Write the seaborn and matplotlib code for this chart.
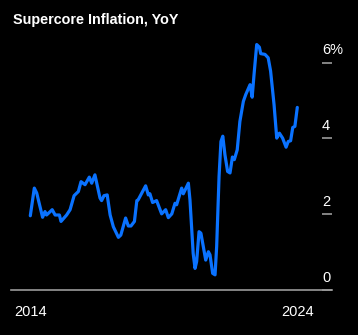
import matplotlib
matplotlib.use("Agg")
import matplotlib.pyplot as plt
import matplotlib.transforms as mtransforms
import seaborn as sns
import pandas as pd

years = [2014.00, 2014.15, 2014.24, 2014.46, 2014.55, 2014.61, 2014.82, 2014.93,
         2015.09, 2015.15, 2015.36, 2015.49, 2015.64, 2015.80, 2015.90, 2016.05,
         2016.21, 2016.30, 2016.42, 2016.61, 2016.67, 2016.76, 2016.88, 2016.99,
         2017.11, 2017.30, 2017.39, 2017.57, 2017.67, 2017.77, 2017.90, 2017.99,
         2018.04, 2018.32, 2018.42, 2018.48, 2018.58, 2018.73, 2018.92, 2019.07,
         2019.17, 2019.30, 2019.42, 2019.48, 2019.67, 2019.73, 2019.92, 2019.98,
         2020.10, 2020.17, 2020.23, 2020.32, 2020.39, 2020.57, 2020.67, 2020.73,
         2020.83, 2020.92, 2020.98, 2021.07, 2021.14, 2021.21, 2021.29, 2021.39,
         2021.48, 2021.57, 2021.64, 2021.75, 2021.85, 2021.98, 2022.07, 2022.23,
         2022.31, 2022.38, 2022.48, 2022.58, 2022.63, 2022.79, 2022.91, 2023.00,
         2023.13, 2023.23, 2023.33, 2023.45, 2023.58, 2023.66, 2023.75, 2023.83,
         2023.91, 2024.00]
values = [1.96, 2.69, 2.56, 1.92, 2.07, 1.98, 2.12, 1.98,
          1.98, 1.81, 1.98, 2.12, 2.49, 2.60, 2.86, 2.78,
          2.98, 2.82, 3.04, 2.43, 2.36, 2.49, 2.51, 1.98,
          1.67, 1.39, 1.45, 1.90, 1.69, 1.69, 1.81, 2.36,
          2.38, 2.75, 2.51, 2.54, 2.31, 2.36, 2.01, 2.12,
          1.91, 2.01, 2.29, 2.25, 2.69, 2.54, 2.82, 2.38,
          0.97, 0.57, 0.75, 1.54, 1.50, 0.79, 1.01, 0.93,
          0.44, 0.40, 1.15, 3.00, 3.92, 4.06, 3.57, 3.13,
          3.09, 3.51, 3.44, 3.70, 4.45, 4.98, 5.16, 5.42,
          5.09, 5.69, 6.48, 6.41, 6.24, 6.22, 6.13, 5.78,
          4.89, 4.01, 4.14, 4.01, 3.77, 3.92, 3.94, 4.29,
          4.32, 4.82]

x_ticks = [2014, 2024]
x_tick_labels = ["2014", "2024"]
y_ticks = [0, 2, 4, 6]
y_tick_labels = ["0", "2", "4", "6%"]
title = "Supercore Inflation, YoY"

df = pd.DataFrame({"year": years, "value": values})

sns.set_style("dark")
plt.rcParams["font.family"] = ["Liberation Sans", "DejaVu Sans"]

W, H = 358, 335
fig = plt.figure(figsize=(W / 100, H / 100), dpi=100, facecolor="black")
ax = fig.add_axes([11 / W, (H - 290) / H, 321 / W, 7 * 37.88 / H])
ax.set_facecolor("black")

sns.lineplot(data=df, x="year", y="value", ax=ax, color="#0a72ff",
             linewidth=2.3, solid_joinstyle="round", solid_capstyle="round")

ax.set_xlim(2013.277, 2025.30)
ax.set_ylim(0, 7)
ax.grid(False)
for s in ["top", "right", "left"]:
    ax.spines[s].set_visible(False)
ax.spines["bottom"].set_color("#9a9a9a")
ax.spines["bottom"].set_linewidth(1.2)

ax.set_xticks(x_ticks)
ax.set_xticklabels(x_tick_labels)
ax.tick_params(axis="x", colors="white", labelsize=10.5, length=4.5,
               width=1.2, color="#9a9a9a", pad=6)

ax.yaxis.tick_right()
ax.set_yticks(y_ticks)
ax.set_yticklabels(y_tick_labels)
ax.tick_params(axis="y", colors="white", labelsize=10.5, length=7, width=1.2,
               color="#9a9a9a", direction="in", pad=-7.2)
offset = mtransforms.ScaledTranslation(0, 14 / 100, fig.dpi_scale_trans)
for lab in ax.get_yticklabels():
    lab.set_transform(lab.get_transform() + offset)
    lab.set_horizontalalignment("left")

ax.set_xlabel("")
ax.set_ylabel("")

fig.text(13 / W, 1 - 24 / H, title, color="white", fontsize=10.4,
         fontweight="bold", ha="left", va="baseline")

fig.savefig("out.png", dpi=100, facecolor="black")
